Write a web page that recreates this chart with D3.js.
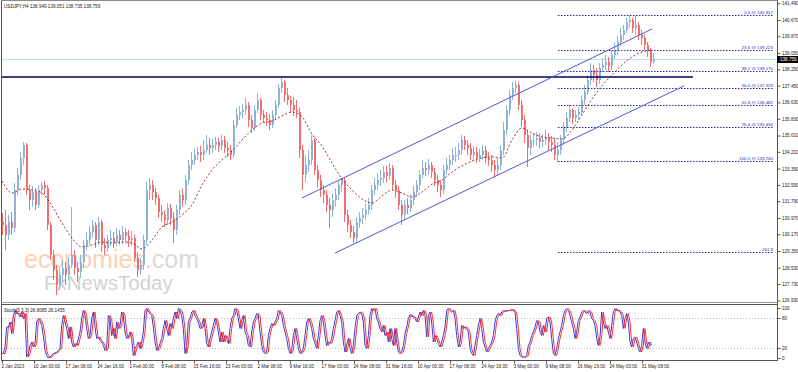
<!DOCTYPE html>
<html>
<head>
<meta charset="utf-8">
<script src="https://cdnjs.cloudflare.com/ajax/libs/d3/7.8.5/d3.min.js"></script>
<style>
body { margin: 0; background: #fff; }
svg { display: block; font-family: 'Liberation Sans', Arial, sans-serif; }
</style>
</head>
<body>
<svg width="798" height="372"></svg>
<script>
var width = 798, height = 372;

var symbolTitle = 'USDJPY,H4  138.949 139.051 138.735 138.759';
var stochTitle = 'Stoch(5,3,3) 26.8085 26.1455';

// candles, 3 H4 bars per candle, open = previous close
var barsPerCandle = 3;
var firstOpen = 130.77;
var closes = [
	130.63,130.14,130.77,130.48,132.34,133.08,133.91,134.55,132.34,131.85,
	132.24,131.61,132.34,132.59,132.44,130.63,129.16,128.42,127.69,128.18,
	128.52,128.18,128.67,129.16,128.52,128.32,128.81,129.65,129.89,130.28,
	130.63,129.89,130.77,129.65,129.50,129.89,129.99,129.79,130.14,129.89,
	130.28,130.09,129.89,129.99,129.01,128.42,128.67,129.89,132.34,132.59,
	132.24,131.95,131.26,131.12,130.87,131.46,130.97,130.38,131.36,132.10,
	131.85,132.83,133.57,133.81,134.06,134.20,134.06,134.30,134.55,134.40,
	134.55,134.69,134.50,134.79,134.40,134.30,134.06,135.53,136.02,136.16,
	136.26,136.51,135.77,135.38,136.26,136.75,136.02,135.87,135.77,135.53,
	136.02,136.51,137.34,137.63,136.99,136.75,136.51,136.26,136.16,134.30,
	133.08,133.57,133.81,134.79,133.32,132.83,132.34,132.10,131.61,131.36,
	131.85,132.10,132.59,132.83,131.12,130.63,130.28,129.99,130.77,130.97,
	131.12,131.36,131.61,132.34,132.59,132.83,132.93,133.22,133.03,133.42,
	132.59,132.34,131.61,131.12,131.61,131.46,131.85,132.24,132.59,133.08,
	133.42,133.32,133.57,133.22,132.83,132.59,132.34,133.32,133.57,133.81,
	134.06,134.06,134.30,134.79,134.55,134.40,134.06,134.20,133.91,134.06,
	134.30,133.91,133.81,133.57,133.32,133.57,134.30,135.28,136.26,136.99,
	137.34,137.49,136.51,135.77,135.04,134.40,134.79,134.79,134.89,134.69,
	134.79,134.89,134.69,134.55,134.06,134.30,134.79,135.38,135.87,136.26,
	135.87,136.02,136.16,136.75,137.14,137.73,138.22,137.98,137.73,138.32,
	138.47,138.61,138.42,138.96,139.20,139.59,139.94,140.18,140.57,140.67,
	140.28,140.43,139.94,139.79,139.45,139.20,138.61,138.76
];
var highs = [
	131.21,131.36,131.12,131.26,132.68,133.42,134.20,134.69,134.64,132.59,
	132.54,132.44,132.59,132.73,132.78,132.59,130.77,129.40,128.67,128.52,
	128.91,128.81,129.01,131.51,129.40,128.81,129.16,129.89,130.28,130.58,
	130.87,130.77,131.02,130.87,129.99,130.14,130.38,130.28,130.48,130.38,
	130.58,130.48,130.38,130.33,130.14,129.30,129.01,130.14,132.73,132.93,
	132.83,132.44,132.10,131.61,131.36,131.70,131.65,131.26,131.61,132.34,
	132.44,133.08,133.81,134.20,134.40,134.45,134.50,134.79,135.04,134.89,
	134.84,134.94,134.89,135.04,134.99,134.69,134.55,135.77,136.36,136.46,
	136.55,136.85,136.65,136.02,136.51,137.09,136.85,136.26,136.16,136.06,
	136.26,136.75,137.53,137.83,137.73,137.34,136.95,136.90,136.75,136.36,
	134.55,134.06,134.30,135.04,134.89,133.57,133.08,132.59,132.34,131.95,
	132.19,132.44,132.83,132.93,132.93,131.36,130.87,130.58,131.02,131.26,
	131.46,131.65,131.95,132.59,132.93,133.17,133.32,133.52,133.52,133.66,
	133.57,132.83,132.54,131.85,131.85,131.95,132.14,132.54,132.83,133.32,
	133.81,133.71,133.86,133.71,133.42,133.08,132.83,133.57,133.91,134.06,
	134.40,134.45,134.64,135.04,134.99,134.79,134.64,134.50,134.45,134.35,
	134.55,134.50,134.20,134.06,133.81,133.91,134.55,135.67,136.51,137.24,
	137.63,137.68,137.63,136.75,136.02,135.28,135.04,135.13,135.18,135.13,
	135.08,135.28,135.13,134.99,134.89,134.69,135.04,135.67,136.16,136.51,
	136.36,136.26,136.41,136.99,137.49,137.98,138.56,138.47,138.32,138.56,
	138.81,138.96,138.86,139.20,139.54,139.89,140.28,140.43,140.77,140.92,
	140.77,140.90,140.57,140.18,139.94,139.59,139.30,139.05
];
var lows = [
	130.14,129.40,129.89,130.14,130.28,132.10,132.83,133.57,132.10,131.36,
	131.51,131.36,131.46,132.10,132.10,130.38,128.91,127.93,127.19,127.44,
	127.83,127.69,127.93,128.52,128.18,127.83,128.03,128.52,129.40,129.65,
	129.99,129.50,129.65,129.30,129.16,129.30,129.60,129.50,129.60,129.65,
	129.69,129.79,129.55,129.60,128.81,128.08,128.18,128.42,129.65,131.85,
	131.85,131.61,130.97,130.77,130.53,130.63,130.63,129.74,130.14,131.12,
	131.51,131.61,132.59,133.32,133.57,133.81,133.71,133.81,134.15,134.06,
	134.15,134.30,134.20,134.30,134.15,133.96,133.81,133.91,135.38,135.77,
	135.87,136.02,135.43,135.13,135.23,136.11,135.77,135.62,135.48,135.28,
	135.38,135.77,136.36,137.09,136.65,136.51,136.16,135.97,135.87,133.91,
	132.34,132.73,133.22,133.57,133.08,132.44,131.99,131.70,131.26,130.48,
	131.02,131.51,131.85,132.24,130.77,130.28,129.99,129.74,129.79,130.48,
	130.67,130.87,131.12,131.36,132.10,132.34,132.54,132.68,132.73,132.83,
	132.34,131.95,131.36,130.63,130.87,131.16,131.26,131.61,131.99,132.34,
	132.93,133.03,133.08,132.93,132.54,132.24,131.99,132.14,133.08,133.32,
	133.57,133.71,133.81,134.06,134.30,134.06,133.81,133.81,133.66,133.71,
	133.81,133.66,133.52,133.22,132.93,133.08,133.32,134.06,135.04,136.02,
	136.75,137.09,136.26,135.43,134.64,133.47,134.06,134.45,134.50,134.40,
	134.45,134.55,134.30,134.20,133.81,133.71,134.06,134.55,135.18,135.67,
	135.57,135.67,135.77,136.02,136.51,137.00,137.49,137.63,137.39,137.53,
	138.12,138.22,138.12,138.22,138.71,138.96,139.40,139.69,140.03,140.28,
	140.03,139.94,139.69,139.45,139.20,138.86,138.37,138.55
];

// moving average, one value every 10 bars
var maStep = 10;
var maValues = [
	132.78,132.19,132.39,132.34,132.19,131.56,130.72,129.99,129.55,129.65,
	129.79,129.74,129.79,129.74,129.45,129.89,130.53,130.77,131.12,131.61,
	132.59,133.32,133.81,134.25,134.79,135.28,135.62,135.72,135.97,136.16,
	135.92,135.08,134.50,133.66,132.88,132.34,131.90,131.70,132.05,132.34,
	132.19,132.00,132.24,132.63,132.83,133.22,133.52,133.76,133.91,133.96,
	133.91,134.79,135.38,135.13,134.94,134.89,134.84,135.28,136.02,136.80,
	137.44,137.98,138.47,138.86,139.10,139.20
];

// stochastic, sampled every 5/3 bar
var stochStep = 5 / 3;
var stochK = [
	9,9,9,22,62,62,72,49,85,95, 89,89,82,92,79,89,2,9,25,32,
	22,29,72,79,75,65,45,15,5,0, 2,5,9,10,12,15,19,65,85,72,
	59,39,62,32,22,29,25,38,52,79, 95,85,59,39,45,79,92,62,39,42,
	35,32,25,15,19,85,79,45,59,39, 72,59,65,92,85,52,39,42,52,39,
	5,19,25,32,19,32,52,95,99,92, 89,85,62,32,15,19,29,39,59,75,
	59,45,69,59,79,92,79,99,95,85, 59,9,25,72,79,92,95,85,79,72,
	59,62,79,59,29,22,39,52,65,79, 72,52,32,52,32,45,39,29,59,79,
	85,99,95,79,59,75,85,52,45,25, 22,52,72,79,89,85,52,25,12,9,
	12,45,59,69,65,72,79,95,92,85, 65,52,39,19,9,15,45,59,39,19,
	9,12,19,45,72,79,72,59,39,29, 19,45,75,85,72,45,25,32,29,39,
	59,75,92,95,85,72,32,12,25,39, 19,9,25,59,85,89,92,89,72,25,
	19,45,85,99,95,99,79,72,59,52, 65,45,52,32,59,39,25,59,32,12,
	9,12,25,49,62,79,87,84,82,79, 72,82,92,85,95,85,42,85,92,72,
	32,45,39,29,22,32,45,62,95,99, 95,92,95,79,45,22,32,65,59,62,
	59,52,19,9,5,25,45,65,79,59, 32,22,12,19,25,32,45,72,85,89,
	85,92,95,93,95,95,95,97,95,92, 59,19,5,2,2,2,5,25,32,45,
	52,62,75,72,52,45,65,52,79,82, 72,39,9,5,19,39,52,65,85,95,
	99,95,85,72,59,39,52,75,82,92, 95,92,89,95,92,79,75,65,39,25,
	42,92,72,59,65,52,39,65,92,99, 95,95,92,85,59,79,89,72,32,22,
	39,42,32,19,12,25,59,32,19,32, 25,27
];
var stochD = [
	9,9,9,9,22,62,62,72,49,85, 95,89,89,82,92,79,89,2,9,25,
	32,22,29,72,79,75,65,45,15,5, 0,2,5,9,10,12,15,19,65,85,
	72,59,39,62,32,22,29,25,38,52, 79,95,85,59,39,45,79,92,62,39,
	42,35,32,25,15,19,85,79,45,59, 39,72,59,65,92,85,52,39,42,52,
	39,5,19,25,32,19,32,52,95,99, 92,89,85,62,32,15,19,29,39,59,
	75,59,45,69,59,79,92,79,99,95, 85,59,9,25,72,79,92,95,85,79,
	72,59,62,79,59,29,22,39,52,65, 79,72,52,32,52,32,45,39,29,59,
	79,85,99,95,79,59,75,85,52,45, 25,22,52,72,79,89,85,52,25,12,
	9,12,45,59,69,65,72,79,95,92, 85,65,52,39,19,9,15,45,59,39,
	19,9,12,19,45,72,79,72,59,39, 29,19,45,75,85,72,45,25,32,29,
	39,59,75,92,95,85,72,32,12,25, 39,19,9,25,59,85,89,92,89,72,
	25,19,45,85,99,95,99,79,72,59, 52,65,45,52,32,59,39,25,59,32,
	12,9,12,25,49,62,79,87,84,82, 79,72,82,92,85,95,85,42,85,92,
	72,32,45,39,29,22,32,45,62,95, 99,95,92,95,79,45,22,32,65,59,
	62,59,52,19,9,5,25,45,65,79, 59,32,22,12,19,25,32,45,72,85,
	89,85,92,95,93,95,95,95,97,95, 92,59,19,5,2,2,2,5,25,32,
	45,52,62,75,72,52,45,65,52,79, 82,72,39,9,5,19,39,52,65,85,
	95,99,95,85,72,59,39,52,75,82, 92,95,92,89,95,92,79,75,65,39,
	25,42,92,72,59,65,52,39,65,92, 99,95,95,92,85,59,79,89,72,32,
	22,39,42,32,19,12,25,59,32,19, 32,26
];

var priceTicks = [141.49,140.67,139.87,139.05,138.25,137.45,136.63,135.83,135.01,134.21,
	133.39,132.59,131.79,130.97,130.17,129.35,128.53,127.73,126.93];
var stochTicks = [100, 80, 20, 0];
var stochLevels = [80, 20];
var barsPerLabel = 32;
var timeLabels = ['2 Jan 2023','10 Jan 00:00','17 Jan 08:00','24 Jan 16:00','1 Feb 00:00',
	'8 Feb 08:00','15 Feb 16:00','23 Feb 00:00','2 Mar 08:00','9 Mar 16:00','17 Mar 00:00',
	'24 Mar 08:00','31 Mar 16:00','10 Apr 00:00','17 Apr 08:00','24 Apr 16:00','3 May 00:00',
	'9 May 08:00','16 May 16:00','24 May 00:00','31 May 08:00'];

// drawn objects
var fibLabels = ['0.0 @ 140.917','23.6 @ 139.223','38.2 @ 138.175','50.0 @ 137.329',
	'61.8 @ 136.482','76.4 @ 135.434','100.0 @ 133.740','161.8'];
var fibPrices = [140.917,139.223,138.175,137.329,136.482,135.434,133.740,129.305];
var fibBars = [556, 771];
var supportPrice = 137.88;
var supportBars = [0, 691];
var lastPrice = 138.759;
var upperChannel = [[300, 131.95], [650, 140.23]];
var lowerChannel = [[333, 129.25], [682, 137.44]];

var svg = d3.select('svg');

var x = d3.scaleLinear().domain([0, 775]).range([2, 777]);
var y = d3.scaleLinear().domain([126.95, 141.65]).range([300, 0]);
var ys = d3.scaleLinear().domain([0, 100]).range([358, 308]);

svg.append('rect').attr('width', width).attr('height', height).attr('fill', '#fff');

var defs = svg.append('defs');
defs.append('clipPath').attr('id', 'mainClip')
	.append('rect').attr('x', 2).attr('y', 0).attr('width', 775).attr('height', 302);
defs.append('clipPath').attr('id', 'stochClip')
	.append('rect').attr('x', 2).attr('y', 305).attr('width', 775).attr('height', 55);

var main = svg.append('g').attr('clip-path', 'url(#mainClip)');

// watermark
var wm = main.append('text')
	.attr('x', 24)
	.attr('y', 268)
	.attr('font-size', 25)
	.attr('font-family', 'Liberation Sans, Arial, sans-serif');
wm.append('tspan').attr('fill', '#fbd2b3').text('economies');
wm.append('tspan').attr('fill', '#dadada').text('.com');
main.append('text')
	.attr('x', 44)
	.attr('y', 290)
	.attr('font-size', 20.5)
	.attr('fill', '#d2d2d2')
	.text('FxNewsToday');

// current price line
main.append('line')
	.attr('x1', 2).attr('x2', 777)
	.attr('y1', Math.round(y(lastPrice)) + 0.5).attr('y2', Math.round(y(lastPrice)) + 0.5)
	.attr('stroke', '#bfe3ea');

// candles
var candles = closes.map(function(c, i) {
	return {
		bar: i * barsPerCandle + 1,
		open: i === 0 ? firstOpen : closes[i - 1],
		close: c,
		high: highs[i],
		low: lows[i]
	};
});

var cg = main.append('g');
cg.selectAll('line.wick')
	.data(candles)
	.enter().append('line')
	.attr('class', 'wick')
	.attr('x1', function(d) { return Math.round(x(d.bar)) - 0.5; })
	.attr('x2', function(d) { return Math.round(x(d.bar)) - 0.5; })
	.attr('y1', function(d) { return y(Math.max(d.high, d.open, d.close)); })
	.attr('y2', function(d) { return y(Math.min(d.low, d.open, d.close)); })
	.attr('stroke', function(d) { return d.close >= d.open ? '#8db3da' : '#f56c6c'; });
cg.selectAll('rect.body')
	.data(candles)
	.enter().append('rect')
	.attr('class', 'body')
	.attr('x', function(d) { return Math.round(x(d.bar)) - 1; })
	.attr('width', 2)
	.attr('y', function(d) { return y(Math.max(d.open, d.close)); })
	.attr('height', function(d) { return Math.max(1, Math.abs(y(d.open) - y(d.close))); })
	.attr('fill', function(d) { return d.close >= d.open ? '#8db3da' : '#f56c6c'; });

// moving average
main.append('path')
	.datum(maValues)
	.attr('fill', 'none')
	.attr('stroke', '#a2302c')
	.attr('stroke-width', 1)
	.attr('stroke-dasharray', '2,2')
	.attr('d', d3.line()
		.x(function(d, i) { return x(i * maStep); })
		.y(function(d) { return y(d); })
		.curve(d3.curveMonotoneX));

// support line
main.append('line')
	.attr('x1', x(supportBars[0])).attr('x2', x(supportBars[1]))
	.attr('y1', y(supportPrice)).attr('y2', y(supportPrice))
	.attr('stroke', '#000058')
	.attr('stroke-width', 1.5);

// fibo levels
var fib = main.append('g');
fib.selectAll('line')
	.data(fibPrices)
	.enter().append('line')
	.attr('x1', x(fibBars[0])).attr('x2', x(fibBars[1]))
	.attr('y1', function(d) { return Math.round(y(d)) + 0.5; })
	.attr('y2', function(d) { return Math.round(y(d)) + 0.5; })
	.attr('stroke', '#2d2da8')
	.attr('stroke-dasharray', '1.5,1.5');
fib.selectAll('text')
	.data(fibPrices)
	.enter().append('text')
	.attr('x', x(fibBars[1]))
	.attr('y', function(d) { return Math.round(y(d)) - 1; })
	.attr('text-anchor', 'end')
	.attr('font-size', 4.4)
	.attr('fill', '#2d2da8')
	.text(function(d, i) { return fibLabels[i]; });

// channel
main.selectAll('line.channel')
	.data([upperChannel, lowerChannel])
	.enter().append('line')
	.attr('class', 'channel')
	.attr('x1', function(d) { return x(d[0][0]); })
	.attr('y1', function(d) { return y(d[0][1]); })
	.attr('x2', function(d) { return x(d[1][0]); })
	.attr('y2', function(d) { return y(d[1][1]); })
	.attr('stroke', '#5656cf')
	.attr('stroke-width', 1);

// stochastic panel
var stoch = svg.append('g').attr('clip-path', 'url(#stochClip)');
stoch.selectAll('line.level')
	.data(stochLevels)
	.enter().append('line')
	.attr('class', 'level')
	.attr('x1', 2).attr('x2', 777)
	.attr('y1', function(d) { return Math.round(ys(d)) + 0.5; })
	.attr('y2', function(d) { return Math.round(ys(d)) + 0.5; })
	.attr('stroke', '#bdbdbd')
	.attr('stroke-dasharray', '1,2');

var stochLine = d3.line()
	.x(function(d, i) { return x(i * stochStep - 2); })
	.y(function(d) { return ys(d); });
stoch.append('path').datum(stochK)
	.attr('fill', 'none').attr('stroke', '#3b3bd8').attr('stroke-width', 1)
	.attr('d', stochLine);
stoch.append('path').datum(stochD)
	.attr('fill', 'none').attr('stroke', '#ff3030').attr('stroke-width', 1)
	.attr('d', stochLine);

// frames
var frame = svg.append('g').attr('stroke', '#555').attr('fill', 'none');
frame.append('line').attr('x1', 1.5).attr('x2', 1.5).attr('y1', 0).attr('y2', 361);
frame.append('line').attr('x1', 777.5).attr('x2', 777.5).attr('y1', 0).attr('y2', 361);
frame.append('line').attr('x1', 1).attr('x2', 778).attr('y1', 0.5).attr('y2', 0.5).attr('stroke', '#888');
frame.append('line').attr('x1', 1).attr('x2', 778).attr('y1', 302.5).attr('y2', 302.5).attr('stroke', '#999');
frame.append('line').attr('x1', 1).attr('x2', 778).attr('y1', 304.5).attr('y2', 304.5).attr('stroke', '#555');
frame.append('line').attr('x1', 1).attr('x2', 778).attr('y1', 360.5).attr('y2', 360.5);

// axes
var priceAxis = svg.append('g')
	.attr('transform', 'translate(777.5,0)')
	.call(d3.axisRight(y).tickValues(priceTicks).tickSize(3).tickPadding(1.5)
		.tickFormat(d3.format('.3f')));
var stochAxis = svg.append('g')
	.attr('transform', 'translate(777.5,0)')
	.call(d3.axisRight(ys).tickValues(stochTicks).tickSize(3).tickPadding(1.5));
var timeAxis = svg.append('g')
	.attr('transform', 'translate(0,360.5)')
	.call(d3.axisBottom(x).tickValues(timeLabels.map(function(d, i) { return i * barsPerLabel; }))
		.tickSize(3).tickPadding(1.5)
		.tickFormat(function(d, i) { return timeLabels[i]; }));
timeAxis.selectAll('text').attr('text-anchor', 'start').attr('x', -1);

[priceAxis, stochAxis, timeAxis].forEach(function(g) {
	g.attr('font-size', null).attr('font-family', null);
	g.select('.domain').remove();
	g.selectAll('line').attr('stroke', '#555');
	g.selectAll('text').attr('font-size', 4.6).attr('fill', '#222');
});

// last price marker
svg.append('rect')
	.attr('x', 777).attr('y', Math.round(y(lastPrice)) - 3)
	.attr('width', 21).attr('height', 7)
	.attr('fill', '#000');
svg.append('text')
	.attr('x', 780).attr('y', Math.round(y(lastPrice)) + 2.2)
	.attr('font-size', 4.6)
	.attr('fill', '#fff')
	.text(lastPrice.toFixed(3));

// titles
svg.append('text').attr('x', 4).attr('y', 7.5)
	.attr('font-size', 4.6).attr('fill', '#222')
	.text(symbolTitle);
svg.append('text').attr('x', 4).attr('y', 311.5)
	.attr('font-size', 4.6).attr('fill', '#222')
	.text(stochTitle);
</script>
</body>
</html>
